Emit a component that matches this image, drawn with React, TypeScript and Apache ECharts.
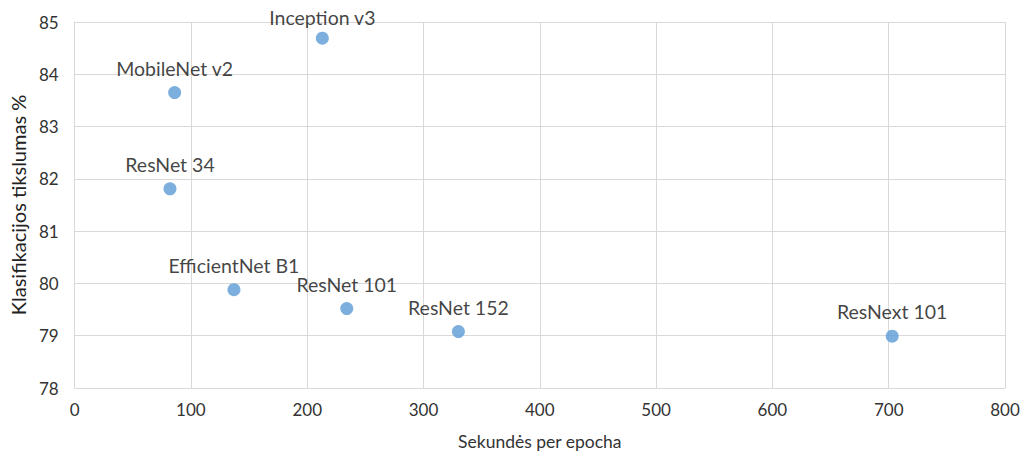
import React, { useEffect, useRef } from "react";
import * as echarts from "echarts";

const modelNames = ["Inception v3", "MobileNet v2", "ResNet 34", "EfficientNet B1", "ResNet 101", "ResNet 152", "ResNext 101"];
const secondsPerEpoch = [213, 86, 82, 137, 234, 330, 703];
const accuracy = [84.69, 83.65, 81.81, 79.88, 79.52, 79.08, 78.99];
const xTicks = [0, 100, 200, 300, 400, 500, 600, 700, 800];
const yTicks = [78, 79, 80, 81, 82, 83, 84, 85];

const FONT = "Lato, 'Open Sans', sans-serif";

export default function App() {
  const ref = useRef<HTMLDivElement>(null);
  useEffect(() => {
    if (!ref.current) return;
    const chart = echarts.init(ref.current, null, { renderer: "svg" });
    const data = modelNames.map((name, i) => ({
      name,
      value: [secondsPerEpoch[i], accuracy[i]],
      label: name === "Inception v3" ? { distance: 4 } : undefined,
    }));
    chart.setOption({
      animation: false,
      backgroundColor: "#ffffff",
      textStyle: { fontFamily: FONT },
      grid: { left: 74, right: 21, top: 22, bottom: 68, containLabel: false },
      xAxis: {
        type: "value",
        min: xTicks[0],
        max: xTicks[xTicks.length - 1],
        interval: 100,
        name: "Sekundės per epocha",
        nameLocation: "middle",
        nameGap: 44,
        nameTextStyle: { fontSize: 17.5, color: "#333333", fontFamily: FONT },
        axisLine: { show: true, lineStyle: { color: "#d9d9d9", width: 1 } },
        axisTick: { show: false },
        axisLabel: { fontSize: 17, color: "#333333", margin: 13, fontFamily: FONT },
        splitLine: { show: true, lineStyle: { color: "#d9d9d9", width: 1 } },
      },
      yAxis: {
        type: "value",
        min: yTicks[0],
        max: yTicks[yTicks.length - 1],
        interval: 1,
        name: "Klasifikacijos tikslumas %",
        nameLocation: "middle",
        nameGap: 46,
        nameRotate: 90,
        nameTextStyle: { fontSize: 20, color: "#222222", fontFamily: FONT },
        axisLine: { show: true, lineStyle: { color: "#d9d9d9", width: 1 } },
        axisTick: { show: false },
        axisLabel: { fontSize: 17, color: "#333333", margin: 16, fontFamily: FONT },
        splitLine: { show: true, lineStyle: { color: "#d9d9d9", width: 1 } },
      },
      series: [
        {
          type: "scatter",
          symbol: "circle",
          symbolSize: 13,
          itemStyle: { color: "#5b9bd5" },
          data,
          label: {
            show: true,
            position: "top",
            distance: 8,
            formatter: "{b}",
            fontSize: 19.5,
            color: "#111111",
            fontFamily: FONT,
          },
        },
      ],
    });
    return () => chart.dispose();
  }, []);
  return (
    <div
      ref={ref}
      style={{ position: "fixed", left: 0, top: 0, width: 1026, height: 456 }}
    />
  );
}
